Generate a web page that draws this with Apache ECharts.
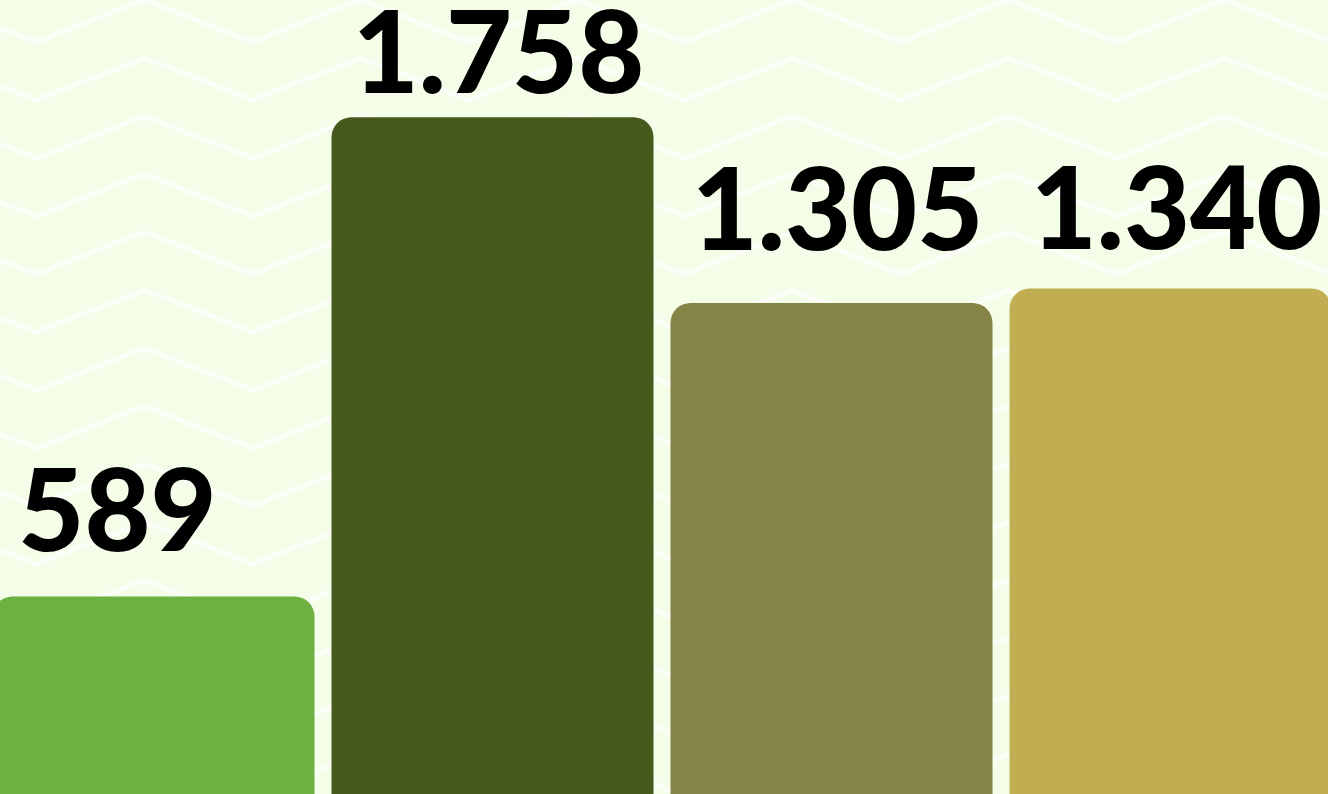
<html lang="en">
<head>
    <meta charset="UTF-8">
    <title>Bars</title>
    <script src="https://cdn.jsdelivr.net/npm/echarts@6.0.0/dist/echarts.min.js"></script>
    <style>
        html, body { margin: 0; padding: 0; overflow: hidden; background: #f3fde7; }
        /* chart is a bit larger than the window: bars run past the edges */
        #my-chart { position: absolute; left: -16.5px; top: 0; width: 1356px; height: 838px; }
    </style>
</head>
<body>
    <div id="my-chart"></div>
    <script>
        const categories = ['A', 'B', 'C', 'D'];
        const values = [589, 1758, 1305, 1340];
        const barColors = ['#6db143', '#465a1e', '#848447', '#c1ad52'];

        // zigzag background tile
        function makeTile() {
            const c = document.createElement('canvas');
            c.width = 216;
            c.height = 58;
            const ctx = c.getContext('2d');
            ctx.fillStyle = '#f3fde7';
            ctx.fillRect(0, 0, 216, 58);
            ctx.strokeStyle = 'rgba(255,255,255,0.65)';
            ctx.lineWidth = 5;
            ctx.translate(16.5, 0);
            for (let dy = -58; dy <= 58; dy += 58) {
                ctx.beginPath();
                ctx.moveTo(-180, 42 + dy);
                ctx.lineTo(-72, dy);
                ctx.lineTo(36, 42 + dy);
                ctx.lineTo(144, dy);
                ctx.lineTo(252, 42 + dy);
                ctx.lineTo(360, dy);
                ctx.stroke();
            }
            return c;
        }

        window.onload = function () {
            const chart = echarts.init(document.getElementById('my-chart'));

            const fmt = v => v.toLocaleString('de-DE');
            // labels sit a little off the bar tops in the original
            const labelShift = [[-36, -21], [6, 0], [6, -29], [6, -15]];

            let option = {
                backgroundColor: { image: makeTile(), repeat: 'repeat' },
                animation: false,
                grid: { left: 0, right: 0, top: 18, bottom: 0, containLabel: false },
                xAxis: {
                    type: 'category',
                    data: categories,
                    show: false
                },
                yAxis: {
                    type: 'value',
                    min: 0,
                    max: 2000,
                    show: false,
                    splitLine: { show: false }
                },
                series: [{
                    type: 'bar',
                    barWidth: 322,
                    data: values.map((v, i) => ({
                        value: v,
                        itemStyle: { color: barColors[i] },
                        label: { offset: labelShift[i] }
                    })),
                    itemStyle: { borderRadius: [20, 20, 0, 0] },
                    label: {
                        show: true,
                        position: 'top',
                        distance: 4,
                        formatter: p => fmt(p.value),
                        color: '#000',
                        fontFamily: 'Lato',
                        fontWeight: 900,
                        fontSize: 114
                    }
                }]
            };

            chart.setOption(option);
        };
    </script>
</body>
</html>
